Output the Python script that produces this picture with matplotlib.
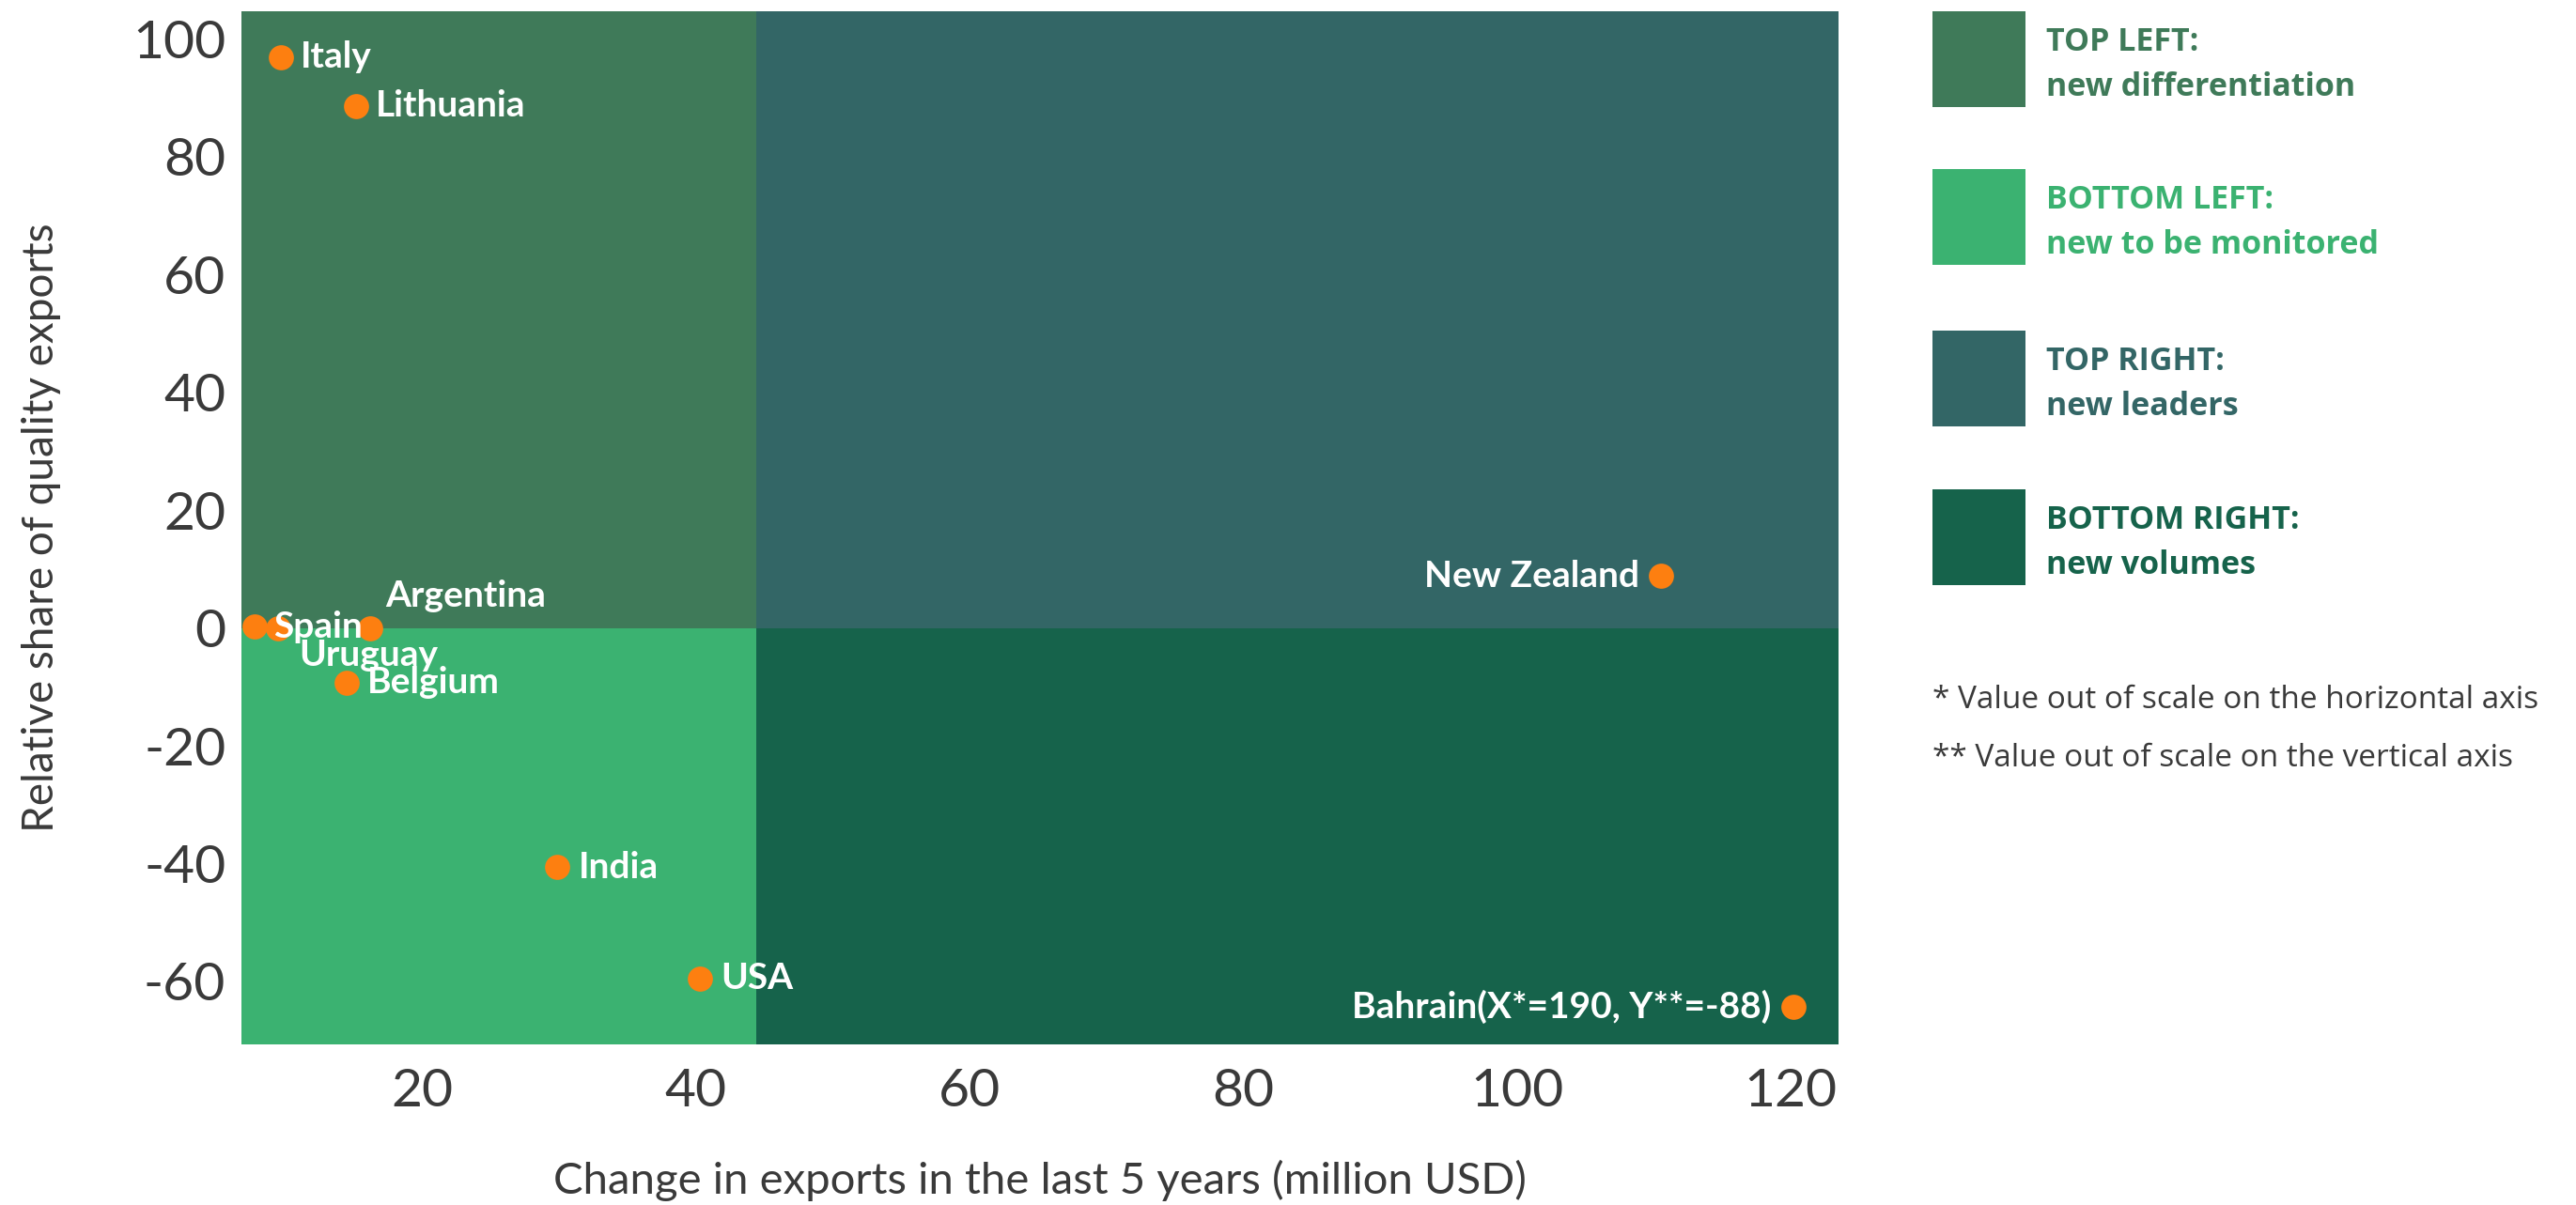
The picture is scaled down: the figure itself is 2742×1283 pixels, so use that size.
import matplotlib
matplotlib.use("Agg")
import matplotlib.pyplot as plt
from matplotlib.patches import Rectangle

# ---- data ----
countries = ["Italy", "Lithuania", "Spain", "Uruguay", "Argentina", "Belgium",
             "India", "USA", "New Zealand", "Bahrain(X*=190, Y**=-88)"]
x_values = [9.7, 15.2, 7.8, 9.5, 16.2, 14.5, 29.9, 40.3, 110.5, 120.2]
y_values = [96.9, 88.6, 0.2, -0.1, -0.1, -9.3, -40.6, -59.5, 8.8, -64.3]
# label offsets (points) and alignment
label_dx = [15, 15, 14, 16, 12, 16, 16, 16, -16, -17]
label_dy = [0, 0, 0, -20, 25, 0, 0, 0, 0, 0]
label_ha = ["left"] * 8 + ["right", "right"]

x_ticks = [20, 40, 60, 80, 100, 120]
y_ticks = [100, 80, 60, 40, 20, 0, -20, -40, -60]
x_lim = (6.82, 123.5)
y_lim = (-70.7, 104.7)
x_split = 44.44
y_split = 0

quadrant_names = ["TOP LEFT:", "BOTTOM LEFT:", "TOP RIGHT:", "BOTTOM RIGHT:"]
quadrant_desc = ["new differentiation", "new to be monitored", "new leaders", "new volumes"]
quadrant_colors = ["#3f7a59", "#3bb271", "#336666", "#16634b"]
footnotes = ["* Value out of scale on the horizontal axis",
             "** Value out of scale on the vertical axis"]

dot_color = "#fd7f10"
text_grey = "#3a3a3a"

W, H = 2742, 1283
fig = plt.figure(figsize=(W / 100, H / 100), dpi=100)
fig.patch.set_facecolor("white")
L, R, T, B = 257, 1957, 12, 1112
ax = fig.add_axes([L / W, 1 - B / H, (R - L) / W, (B - T) / H])
ax.set_xlim(*x_lim)
ax.set_ylim(*y_lim)

# quadrants
tl, bl, tr, br = quadrant_colors
ax.add_patch(Rectangle((x_lim[0], y_split), x_split - x_lim[0], y_lim[1] - y_split, color=tl, lw=0, zorder=0))
ax.add_patch(Rectangle((x_lim[0], y_lim[0]), x_split - x_lim[0], y_split - y_lim[0], color=bl, lw=0, zorder=0))
ax.add_patch(Rectangle((x_split, y_split), x_lim[1] - x_split, y_lim[1] - y_split, color=tr, lw=0, zorder=0))
ax.add_patch(Rectangle((x_split, y_lim[0]), x_lim[1] - x_split, y_split - y_lim[0], color=br, lw=0, zorder=0))

ax.scatter(x_values, y_values, s=370, color=dot_color, zorder=3, linewidths=0, clip_on=False)
for name, x, y, dx, dy, ha in zip(countries, x_values, y_values, label_dx, label_dy, label_ha):
    ax.annotate(name, (x, y), xytext=(dx, dy), textcoords="offset points",
                ha=ha, va="center", color="white", fontsize=28, fontweight="bold",
                family="Lato", zorder=4)

for s in ax.spines.values():
    s.set_visible(False)
ax.set_xticks(x_ticks)
ax.set_yticks(y_ticks)
ax.set_xticklabels([str(v) for v in x_ticks])
ax.set_yticklabels([str(v) for v in y_ticks])
ax.tick_params(length=0, labelsize=41, labelcolor=text_grey)
ax.tick_params(axis="y", pad=12)
ax.tick_params(axis="x", pad=18)
for lab in ax.get_xticklabels() + ax.get_yticklabels():
    lab.set_family("Lato")

fig.text((L + R) / 2 / W, 1 - 1257 / H, "Change in exports in the last 5 years (million USD)",
         fontsize=34, color=text_grey, family="Lato", ha="center", va="center")
fig.text(44 / W, 1 - (T + B) / 2 / H, "Relative share of quality exports",
         fontsize=33, color=text_grey, family="Lato", ha="center", va="center", rotation=90)

# legend
sq_x0, sq_x1 = 2057, 2156
sq_tops = [12, 180, 352, 521]
sq_h = 102
for name, desc, col, top in zip(quadrant_names, quadrant_desc, quadrant_colors, sq_tops):
    fig.patches.append(Rectangle((sq_x0 / W, 1 - (top + sq_h) / H), (sq_x1 - sq_x0) / W, sq_h / H,
                                 transform=fig.transFigure, color=col, lw=0))
    fig.text(2178 / W, 1 - (top + 33) / H, name, color=col, fontsize=24.5, fontweight="bold",
             family="Open Sans", va="center", ha="left")
    fig.text(2178 / W, 1 - (top + 81) / H, desc, color=col, fontsize=24.5, fontweight="bold",
             family="Open Sans", va="center", ha="left")
for i, fn in enumerate(footnotes):
    fig.text(2057 / W, 1 - (745 + 62 * i) / H, fn, color=text_grey, fontsize=24,
             family="Open Sans", va="center", ha="left")

fig.savefig("out.png", dpi=100)
